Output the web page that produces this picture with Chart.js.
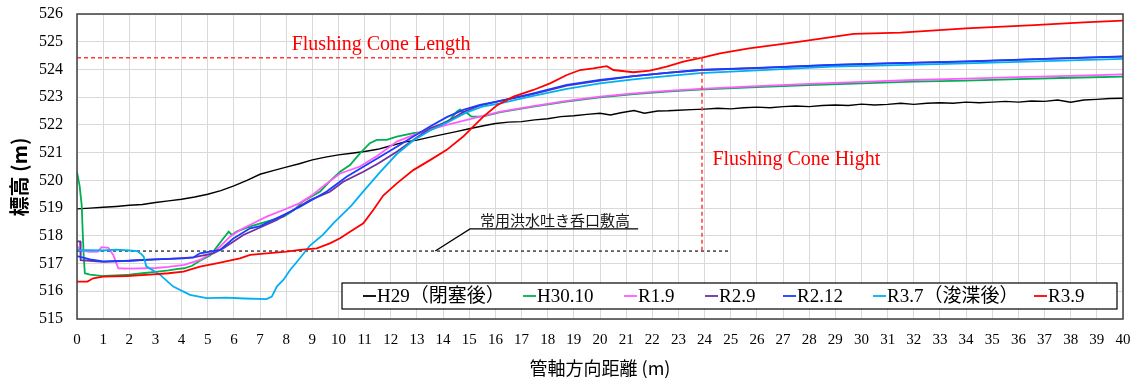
<!DOCTYPE html>
<html>
<head>
<meta charset="utf-8">
<script src="https://cdn.jsdelivr.net/npm/chart.js@4.4.1/dist/chart.umd.min.js"></script>
<style>
  html, body { margin: 0; padding: 0; background: #fff; }
  #wrap { width: 1139px; height: 383px; }
</style>
</head>
<body>
<div id="wrap"><canvas id="grafico" width="1139" height="383"></canvas></div>
<script>
// 縦断形状 [距離(m), 標高(m)]
const h29 = [[0,518.97],[0.5,519.0],[1,519.03],[1.5,519.06],[2,519.1],[2.5,519.13],[3,519.2],[3.5,519.26],[4,519.32],[4.5,519.4],[5,519.5],[5.5,519.63],[6,519.8],[6.5,520.0],[7,520.22],[7.5,520.35],[8,520.48],[8.5,520.6],[9,520.74],[9.5,520.84],[10,520.92],[10.5,520.98],[11,521.04],[11.5,521.12],[12,521.25],[12.5,521.38],[13,521.45],[13.5,521.56],[14,521.66],[14.5,521.76],[15,521.86],[15.5,521.96],[16,522.05],[16.5,522.1],[17,522.12],[17.5,522.18],[18,522.22],[18.5,522.3],[19,522.33],[19.5,522.38],[20,522.42],[20.4,522.36],[20.8,522.44],[21.3,522.52],[21.7,522.42],[22.2,522.5],[22.6,522.51],[23,522.53],[23.5,522.55],[24,522.57],[24.5,522.6],[25,522.58],[25.5,522.62],[26,522.64],[26.5,522.62],[27,522.66],[27.5,522.68],[28,522.66],[28.5,522.7],[29,522.72],[29.5,522.7],[30,522.75],[30.5,522.72],[31,522.74],[31.5,522.78],[32,522.74],[32.5,522.78],[33,522.8],[33.5,522.78],[34,522.82],[34.5,522.8],[35,522.82],[35.5,522.85],[36,522.82],[36.5,522.86],[37,522.85],[37.5,522.9],[38,522.82],[38.5,522.9],[39,522.92],[39.5,522.95],[40,522.96]];
const h3010 = [[0,520.3],[0.1,519.8],[0.18,519.1],[0.22,518.1],[0.26,517.2],[0.3,516.65],[0.5,516.6],[1,516.55],[1.5,516.57],[2,516.6],[2.5,516.65],[3,516.7],[3.5,516.75],[3.8,516.8],[4.1,516.83],[4.4,516.92],[4.7,517.1],[5.1,517.3],[5.35,517.6],[5.55,517.85],[5.8,518.15],[5.92,518.03],[6.1,518.15],[6.6,518.33],[7.25,518.51],[7.9,518.69],[8.3,518.93],[8.65,519.25],[9.3,519.6],[9.7,520.0],[10.06,520.31],[10.44,520.55],[10.82,520.97],[11.2,521.34],[11.46,521.46],[11.84,521.46],[12.23,521.58],[12.86,521.7],[13.37,521.76],[13.88,522.0],[14.26,522.18],[14.52,522.48],[14.65,522.56],[14.77,522.42],[14.9,522.44],[15.09,522.3],[15.5,522.3],[16.2,522.46],[17.45,522.66],[18.7,522.84],[20,522.99],[21.3,523.11],[22.55,523.2],[23.8,523.27],[26,523.36],[28,523.44],[30,523.5],[32,523.56],[34,523.6],[36,523.65],[38,523.7],[40,523.74]];
const r19 = [[0,517.65],[0.1,517.47],[0.5,517.42],[0.8,517.43],[0.94,517.59],[1.2,517.57],[1.39,517.3],[1.58,516.83],[2,516.82],[3,516.84],[3.5,516.88],[4.1,516.95],[4.7,517.13],[5.34,517.49],[5.85,517.97],[6.23,518.21],[7.25,518.69],[7.89,518.93],[8.5,519.17],[9.04,519.5],[9.55,519.89],[10.06,520.25],[10.82,520.5],[11.5,520.9],[12.23,521.4],[13.12,521.73],[14.14,522.0],[15.41,522.3],[16.2,522.48],[17.45,522.68],[18.73,522.87],[20,523.02],[21.28,523.14],[22.55,523.23],[23.82,523.3],[26,523.4],[28,523.48],[30,523.55],[32,523.62],[34,523.67],[36,523.72],[38,523.77],[40,523.82]];
const r29 = [[0,517.8],[0.12,517.8],[0.14,517.12],[0.5,517.1],[1,517.06],[2,517.1],[2.5,517.13],[3.5,517.17],[4.45,517.22],[5.21,517.37],[5.6,517.55],[6.36,518.03],[7.64,518.57],[8.91,519.29],[9.67,519.59],[10.18,519.95],[10.95,520.31],[11.5,520.6],[12.23,521.03],[12.86,521.46],[13.5,521.88],[14.14,522.1],[14.77,522.46],[15.41,522.7],[16.05,522.84],[17.32,523.08],[18.73,523.42],[20,523.6],[21.28,523.76],[22.55,523.88],[23.82,523.98],[26,524.05],[28.9,524.16],[31,524.22],[34,524.28],[37,524.38],[40,524.46]];
const r212 = [[0,517.27],[0.5,517.15],[1,517.08],[2,517.1],[3,517.15],[4.07,517.19],[4.45,517.22],[4.7,517.37],[5.09,517.43],[5.47,517.49],[5.98,517.9],[6.62,518.27],[7.0,518.35],[7.89,518.75],[8.53,519.05],[9.55,519.6],[10.31,520.13],[10.95,520.49],[11.59,520.85],[12.23,521.21],[12.86,521.58],[13.5,521.94],[14.14,522.28],[14.77,522.54],[15.41,522.72],[16.05,522.84],[17.45,523.14],[18.73,523.44],[20,523.62],[21.28,523.76],[22.55,523.88],[23.82,523.98],[26,524.06],[28.9,524.16],[31,524.22],[34,524.29],[37,524.38],[40,524.47]];
const r37 = [[0,517.48],[0.5,517.48],[1,517.47],[1.5,517.5],[2,517.47],[2.3,517.45],[2.45,517.35],[2.55,517.25],[2.65,516.9],[3.17,516.6],[3.68,516.17],[4.32,515.87],[4.96,515.75],[5.7,515.77],[6.4,515.74],[7.25,515.72],[7.45,515.81],[7.64,516.17],[7.89,516.41],[8.15,516.77],[8.53,517.2],[8.91,517.65],[9.42,518.05],[9.8,518.45],[10.18,518.8],[10.5,519.1],[10.95,519.6],[11.59,520.3],[12.23,520.95],[12.86,521.44],[13.5,521.8],[14.14,522.08],[14.9,522.45],[15.5,522.66],[16.18,522.78],[17.45,523.05],[18.73,523.3],[20,523.5],[21.28,523.64],[22.55,523.76],[23.82,523.87],[26,523.97],[28.9,524.1],[31,524.15],[34,524.22],[37,524.3],[40,524.38]];
const r39 = [[0,516.35],[0.4,516.35],[0.62,516.47],[1,516.53],[1.9,516.55],[2.79,516.6],[3.5,516.65],[4.07,516.71],[4.7,516.89],[5.34,517.01],[6.23,517.19],[6.62,517.31],[7.25,517.37],[8.0,517.43],[8.53,517.49],[9.17,517.55],[9.67,517.73],[10.06,517.91],[10.44,518.15],[10.95,518.45],[11.33,518.93],[11.71,519.45],[12.23,519.89],[12.86,520.37],[13.5,520.73],[14.14,521.1],[14.77,521.58],[15.15,521.94],[15.54,522.3],[16.05,522.7],[16.69,523.02],[17.45,523.26],[18.09,523.5],[18.73,523.8],[19.24,523.98],[19.74,524.04],[20.26,524.12],[20.51,523.98],[21.28,523.9],[21.91,523.96],[22.55,524.1],[23.19,524.28],[23.95,524.44],[24.59,524.58],[25.7,524.76],[27.65,525.0],[29.7,525.28],[31.5,525.33],[34,525.48],[36.6,525.6],[38.5,525.7],[40,525.76]];

const seriesNames = ["H29（閉塞後）", "H30.10", "R1.9", "R2.9", "R2.12", "R3.7（浚渫後）", "R3.9"];
const seriesColors = ["#000000", "#00b050", "#ff5cff", "#7030a0", "#1a3cff", "#00b0f0", "#ff0000"];
const seriesData = [h29, h3010, r19, r29, r212, r37, r39];

// 補助線
const coneLength = 23.9;     // m
const coneTop = 524.42;      // m
const spillwaySill = 517.45; // 常用洪水吐き呑口敷高
const spillwayEnd = 25;
const leader = [[13.7,517.45],[15.03,518.25],[21.46,518.25]];

const xTicks = { min: 0, max: 40, step: 1 };
const yTicks = { min: 515, max: 526, step: 1 };

const toXY = arr => arr.map(p => ({ x: p[0], y: p[1] }));

const datasets = seriesData.map((d, i) => ({
  label: seriesNames[i],
  data: toXY(d),
  borderColor: seriesColors[i],
  borderWidth: i === 0 ? 1.4 : 1.8,
  pointRadius: 0,
  tension: 0,
  order: 20 - i
}));

datasets.push(
  { label: "", data: toXY([[0, coneTop], [coneLength, coneTop]]), borderColor: "#ff3b3b", borderWidth: 1.5, borderDash: [4, 3], pointRadius: 0, order: 1 },
  { label: "", data: toXY([[coneLength, coneTop], [coneLength, spillwaySill]]), borderColor: "#ff3b3b", borderWidth: 1.5, borderDash: [4, 3], pointRadius: 0, order: 1 },
  { label: "", data: toXY([[0, spillwaySill], [spillwayEnd, spillwaySill]]), borderColor: "#404040", borderWidth: 1.5, borderDash: [3, 3], pointRadius: 0, order: 30 },
  { label: "", data: toXY(leader), borderColor: "#000000", borderWidth: 1.3, pointRadius: 0, order: 2 }
);

const serif = "'Liberation Serif', 'Times New Roman', serif";
const cjk = "'Noto Sans CJK JP', sans-serif";

// 注記・枠・凡例・軸タイトル
const extras = {
  id: "extras",
  afterDraw(chart) {
    const { ctx, chartArea: a, scales: { x, y } } = chart;
    ctx.save();

    ctx.strokeStyle = "#404040";
    ctx.lineWidth = 1.5;
    ctx.strokeRect(a.left, a.top, a.right - a.left, a.bottom - a.top);

    ctx.fillStyle = "#ff0000";
    ctx.font = "20px " + serif;
    ctx.textBaseline = "middle";
    ctx.textAlign = "center";
    ctx.fillText("Flushing Cone Length", x.getPixelForValue(11.63), y.getPixelForValue(524.88));
    ctx.textAlign = "left";
    ctx.fillText("Flushing Cone Hight", x.getPixelForValue(24.3), y.getPixelForValue(520.73));

    ctx.fillStyle = "#1a1a1a";
    ctx.font = "15px " + cjk;
    ctx.textAlign = "center";
    ctx.fillText("常用洪水吐き呑口敷高", x.getPixelForValue(18.28), y.getPixelForValue(518.55));

    // 凡例
    const lx = a.left + 265, ly = a.bottom - 36, lw = a.right - a.left - 271, lh = 26;
    ctx.fillStyle = "#ffffff";
    ctx.fillRect(lx, ly, lw, lh);
    ctx.strokeStyle = "#000000";
    ctx.lineWidth = 1.2;
    ctx.strokeRect(lx, ly, lw, lh);
    const offs = [21, 181, 282, 363, 441, 531, 692];
    ctx.font = "19px " + serif + ", " + cjk;
    ctx.textAlign = "left";
    seriesNames.forEach((name, i) => {
      const sx = lx + offs[i], sy = ly + lh / 2;
      ctx.strokeStyle = seriesColors[i];
      ctx.lineWidth = 1.8;
      ctx.beginPath();
      ctx.moveTo(sx, sy);
      ctx.lineTo(sx + 13, sy);
      ctx.stroke();
      ctx.fillStyle = "#000000";
      ctx.fillText(name, sx + 14, sy + 1);
    });

    // 軸タイトル
    ctx.fillStyle = "#000000";
    ctx.font = "bold 20px " + cjk;
    ctx.textAlign = "center";
    ctx.translate(19, 177);
    ctx.rotate(-Math.PI / 2);
    ctx.fillText("標高 (m)", 0, 0);
    ctx.setTransform(1, 0, 0, 1, 0, 0);
    ctx.font = "18px " + cjk;
    ctx.fillText("管軸方向距離 (m)", (a.left + a.right) / 2, 368);

    ctx.restore();
  }
};

new Chart(document.getElementById("grafico"), {
  type: "line",
  data: { datasets },
  plugins: [extras],
  options: {
    responsive: false,
    animation: false,
    devicePixelRatio: 1,
    layout: { padding: { top: 14, right: 16, left: 0, bottom: 0 } },
    plugins: { legend: { display: false }, tooltip: { enabled: false } },
    scales: {
      x: {
        type: "linear",
        min: xTicks.min,
        max: xTicks.max,
        afterFit: s => { s.height = 64; s.paddingLeft = 0; s.paddingRight = 0; },
        ticks: { stepSize: xTicks.step, autoSkip: false, maxRotation: 0, padding: 12, color: "#000", font: { family: serif, size: 15 } },
        grid: { color: "#d9d9d9", drawTicks: false },
        border: { display: false }
      },
      y: {
        type: "linear",
        min: yTicks.min,
        max: yTicks.max,
        afterFit: s => { s.width = 77; s.paddingTop = 0; s.paddingBottom = 0; },
        ticks: { stepSize: yTicks.step, padding: 14, color: "#000", font: { family: serif, size: 16 } },
        grid: { color: "#d9d9d9", drawTicks: false },
        border: { display: false }
      }
    }
  }
});
</script>
</body>
</html>
